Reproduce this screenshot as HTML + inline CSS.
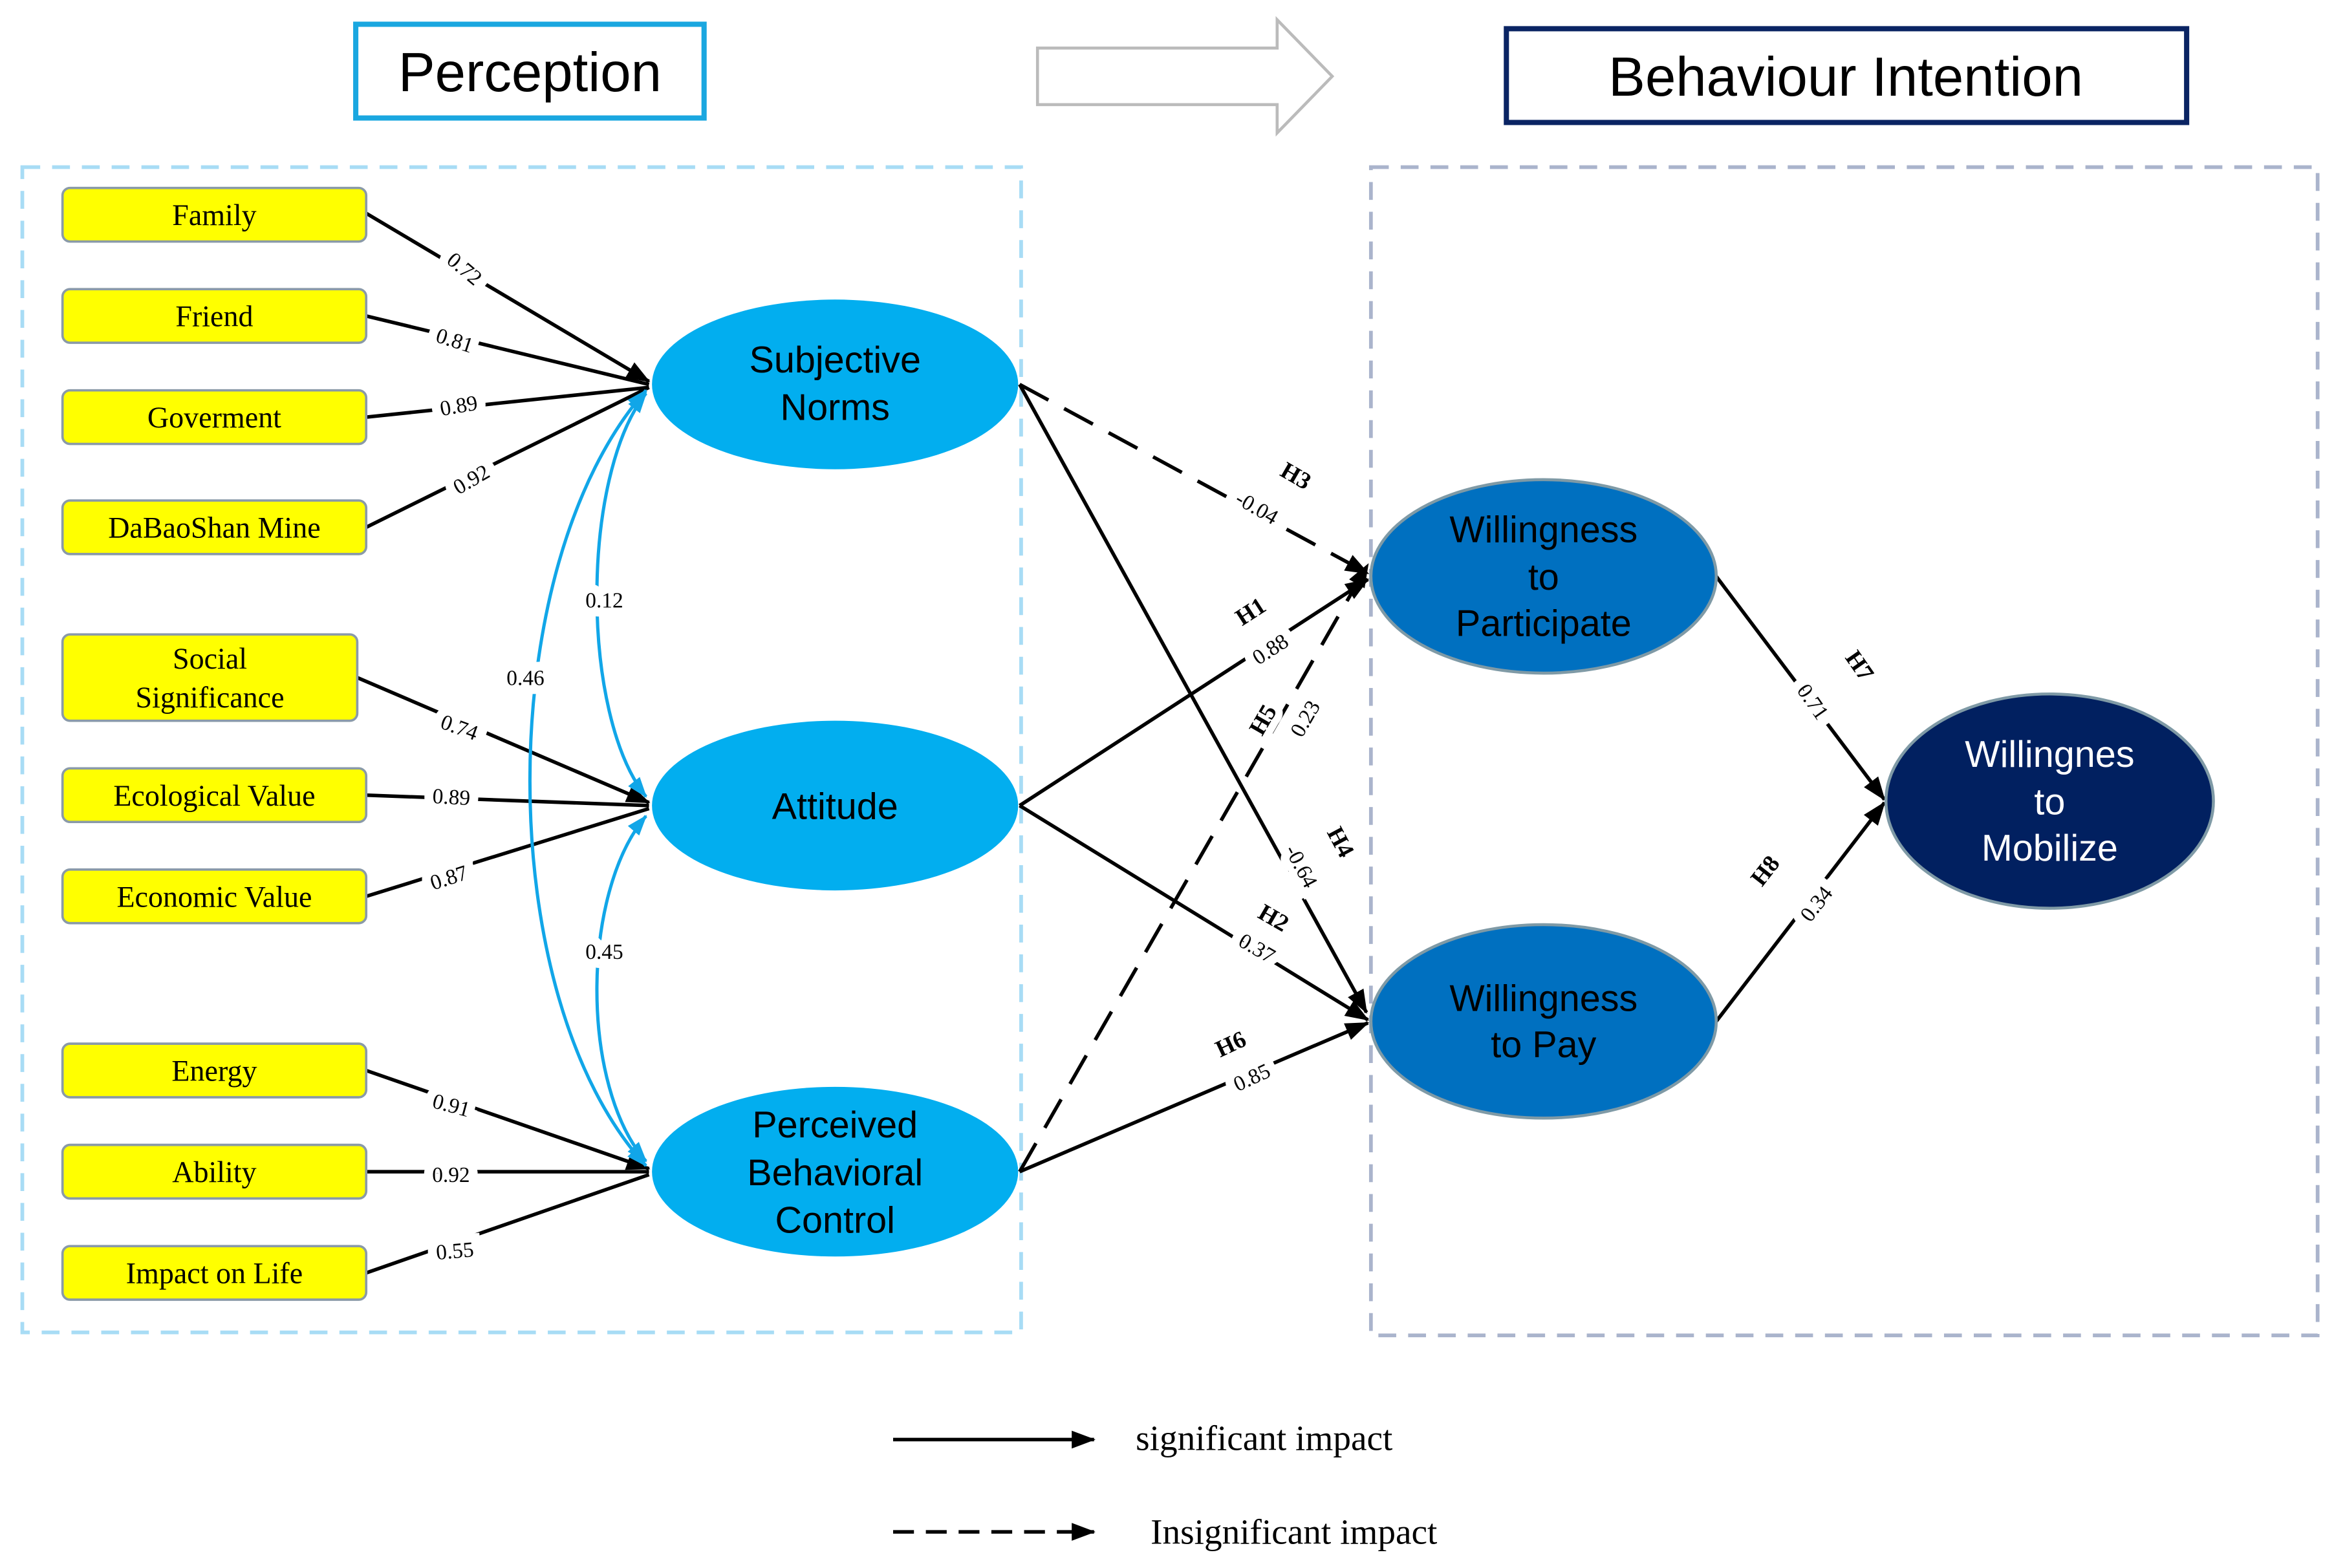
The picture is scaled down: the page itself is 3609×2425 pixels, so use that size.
<!DOCTYPE html>
<html><head><meta charset="utf-8"><style>
html,body{margin:0;padding:0;background:#fff}
svg{display:block}
.box{fill:#ffff00;stroke:#8a9aa8;stroke-width:1.6}
.bt{font-family:"Liberation Serif",serif;font-size:20px;text-anchor:middle;fill:#000}
.lb{font-family:"Liberation Serif",serif;font-size:14.5px;text-anchor:middle;fill:#000;paint-order:stroke;stroke:#fff;stroke-width:12px}
.hb{font-family:"Liberation Serif",serif;font-size:16px;font-weight:bold;text-anchor:middle;fill:#000;paint-order:stroke;stroke:#fff;stroke-width:10px}
.et{font-family:"Liberation Sans",sans-serif;font-size:25px;text-anchor:middle;fill:#000}
.ln{stroke:#000;stroke-width:2.4;fill:none}
.bl{stroke:#11a6e8;stroke-width:2.2;fill:none}
</style></head><body>
<svg width="3609" height="2425" viewBox="0 0 1568 1053" xmlns="http://www.w3.org/2000/svg">
<defs>
<marker id="A" viewBox="0 0 16 16" refX="15" refY="8" markerWidth="16" markerHeight="16" markerUnits="userSpaceOnUse" orient="auto"><path d="M0,2 L16,8 L0,14 z" fill="#000"/></marker>
<marker id="B" viewBox="0 0 14 14" refX="13" refY="7" markerWidth="14" markerHeight="14" markerUnits="userSpaceOnUse" orient="auto-start-reverse"><path d="M0,2 L14,7 L0,12 z" fill="#11a6e8"/></marker>
</defs>
<rect width="1568" height="1053" fill="#fff"/>
<rect x="239" y="16" width="234" height="63" fill="#fff" stroke="#1aa7e0" stroke-width="3.5"/>
<text x="356" y="61" class="et" style="font-size:37px">Perception</text>
<path d="M697,32 L858,32 L858,13 L895,51 L858,89 L858,70 L697,70 Z" fill="#fff" stroke="#bbb" stroke-width="2"/>
<rect x="1012" y="19" width="457" height="63" fill="#fff" stroke="#0a2463" stroke-width="3.5"/>
<text x="1240" y="64" class="et" style="font-size:37px">Behaviour Intention</text>
<rect x="15" y="112" width="671" height="783" fill="none" stroke="#a8dcf5" stroke-width="2.5" stroke-dasharray="12,8"/>
<rect x="921" y="112" width="636" height="785" fill="none" stroke="#aab4cc" stroke-width="2.5" stroke-dasharray="12,8"/>
<g class="ln">
<line x1="246" y1="143" x2="436" y2="256" marker-end="url(#A)"/>
<line x1="246" y1="212" x2="436" y2="258"/>
<line x1="246" y1="280" x2="436" y2="260"/>
<line x1="246" y1="354" x2="436" y2="260"/>
<line x1="240" y1="455" x2="436" y2="539" marker-end="url(#A)"/>
<line x1="246" y1="534" x2="436" y2="541"/>
<line x1="246" y1="602" x2="436" y2="543"/>
<line x1="246" y1="719" x2="436" y2="785" marker-end="url(#A)"/>
<line x1="246" y1="787" x2="436" y2="787"/>
<line x1="246" y1="855" x2="436" y2="789"/>
</g>
<text class="lb" transform="translate(309,184) rotate(40)">0.72</text>
<text class="lb" transform="translate(304,233) rotate(18)">0.81</text>
<text class="lb" transform="translate(309,277) rotate(-10)">0.89</text>
<text class="lb" transform="translate(319,326) rotate(-30)">0.92</text>
<text class="lb" transform="translate(307,493) rotate(20)">0.74</text>
<text class="lb" transform="translate(303,540) rotate(3)">0.89</text>
<text class="lb" transform="translate(303,594) rotate(-18)">0.87</text>
<text class="lb" transform="translate(302,747) rotate(15)">0.91</text>
<text class="lb" transform="translate(303,794)">0.92</text>
<text class="lb" transform="translate(306,845) rotate(-5)">0.55</text>
<path class="bl" d="M434,264 C390,320 390,480 434,535" marker-start="url(#B)" marker-end="url(#B)"/>
<path class="bl" d="M434,548 C390,600 390,730 434,780" marker-start="url(#B)" marker-end="url(#B)"/>
<path class="bl" d="M434,262 C330,380 330,670 434,783" marker-start="url(#B)" marker-end="url(#B)"/>
<text class="lb" x="406" y="408">0.12</text>
<text class="lb" x="406" y="644">0.45</text>
<text class="lb" x="353" y="460">0.46</text>
<g>
<rect class="box" x="42" y="126" width="204" height="36" rx="5"/><text class="bt" x="144" y="151">Family</text>
<rect class="box" x="42" y="194" width="204" height="36" rx="5"/><text class="bt" x="144" y="219">Friend</text>
<rect class="box" x="42" y="262" width="204" height="36" rx="5"/><text class="bt" x="144" y="287">Goverment</text>
<rect class="box" x="42" y="336" width="204" height="36" rx="5"/><text class="bt" x="144" y="361">DaBaoShan Mine</text>
<rect class="box" x="42" y="426" width="198" height="58" rx="5"/><text class="bt" x="141" y="449">Social</text><text class="bt" x="141" y="475">Significance</text>
<rect class="box" x="42" y="516" width="204" height="36" rx="5"/><text class="bt" x="144" y="541">Ecological Value</text>
<rect class="box" x="42" y="584" width="204" height="36" rx="5"/><text class="bt" x="144" y="609">Economic Value</text>
<rect class="box" x="42" y="701" width="204" height="36" rx="5"/><text class="bt" x="144" y="726">Energy</text>
<rect class="box" x="42" y="769" width="204" height="36" rx="5"/><text class="bt" x="144" y="794">Ability</text>
<rect class="box" x="42" y="837" width="204" height="36" rx="5"/><text class="bt" x="144" y="862">Impact on Life</text>
</g>
<g class="ln">
<line x1="685" y1="258" x2="919" y2="385" stroke-dasharray="22,12" marker-end="url(#A)"/>
<line x1="685" y1="258" x2="918" y2="680" marker-end="url(#A)"/>
<line x1="685" y1="541" x2="919" y2="389" marker-end="url(#A)"/>
<line x1="685" y1="541" x2="919" y2="685" marker-end="url(#A)"/>
<line x1="685" y1="787" x2="919" y2="379" stroke-dasharray="22,12" marker-end="url(#A)"/>
<line x1="685" y1="787" x2="919" y2="687" marker-end="url(#A)"/>
<line x1="1153" y1="387" x2="1266" y2="537" marker-end="url(#A)"/>
<line x1="1153" y1="686" x2="1266" y2="539" marker-end="url(#A)"/>
</g>
<text class="hb" transform="translate(868,324) rotate(30)">H3</text>
<text class="lb" transform="translate(842,345) rotate(30)">-0.04</text>
<text class="hb" transform="translate(843,415) rotate(-33)">H1</text>
<text class="lb" transform="translate(856,440) rotate(-33)">0.88</text>
<text class="hb" transform="translate(853,486) rotate(-60)">H5</text>
<text class="lb" transform="translate(881,485) rotate(-60)">0.23</text>
<text class="hb" transform="translate(896,568) rotate(62)">H4</text>
<text class="lb" transform="translate(870,584) rotate(62)">-0.64</text>
<text class="hb" transform="translate(853,621) rotate(30)">H2</text>
<text class="lb" transform="translate(842,641) rotate(30)">0.37</text>
<text class="hb" transform="translate(829,706) rotate(-25)">H6</text>
<text class="lb" transform="translate(843,728) rotate(-25)">0.85</text>
<text class="hb" transform="translate(1245,450) rotate(55)">H7</text>
<text class="lb" transform="translate(1214,474) rotate(55)">0.71</text>
<text class="hb" transform="translate(1190,588) rotate(-52)">H8</text>
<text class="lb" transform="translate(1224,610) rotate(-52)">0.34</text>
<ellipse cx="561" cy="258" rx="123" ry="57" fill="#02aeef"/>
<text class="et" x="561" y="250">Subjective</text><text class="et" x="561" y="282">Norms</text>
<ellipse cx="561" cy="541" rx="123" ry="57" fill="#02aeef"/>
<text class="et" x="561" y="550">Attitude</text>
<ellipse cx="561" cy="787" rx="123" ry="57" fill="#02aeef"/>
<text class="et" x="561" y="764">Perceived</text><text class="et" x="561" y="796">Behavioral</text><text class="et" x="561" y="828">Control</text>
<ellipse cx="1037" cy="387" rx="116" ry="65" fill="#0070c0" stroke="#7f9aa6" stroke-width="2"/>
<text class="et" x="1037" y="364">Willingness</text><text class="et" x="1037" y="396">to</text><text class="et" x="1037" y="427">Participate</text>
<ellipse cx="1037" cy="686" rx="116" ry="65" fill="#0070c0" stroke="#7f9aa6" stroke-width="2"/>
<text class="et" x="1037" y="679">Willingness</text><text class="et" x="1037" y="710">to Pay</text>
<ellipse cx="1377" cy="538" rx="110" ry="72" fill="#012060" stroke="#7f9aa6" stroke-width="2"/>
<text class="et" x="1377" y="515" style="fill:#fff">Willingnes</text><text class="et" x="1377" y="547" style="fill:#fff">to</text><text class="et" x="1377" y="578" style="fill:#fff">Mobilize</text>
<line class="ln" x1="600" y1="967" x2="735" y2="967" marker-end="url(#A)"/>
<text x="763" y="974" style="font-family:'Liberation Serif',serif;font-size:24px">significant impact</text>
<line class="ln" x1="600" y1="1029" x2="735" y2="1029" stroke-dasharray="14,8" marker-end="url(#A)"/>
<text x="773" y="1037" style="font-family:'Liberation Serif',serif;font-size:24px">Insignificant impact</text>
</svg>
</body></html>
